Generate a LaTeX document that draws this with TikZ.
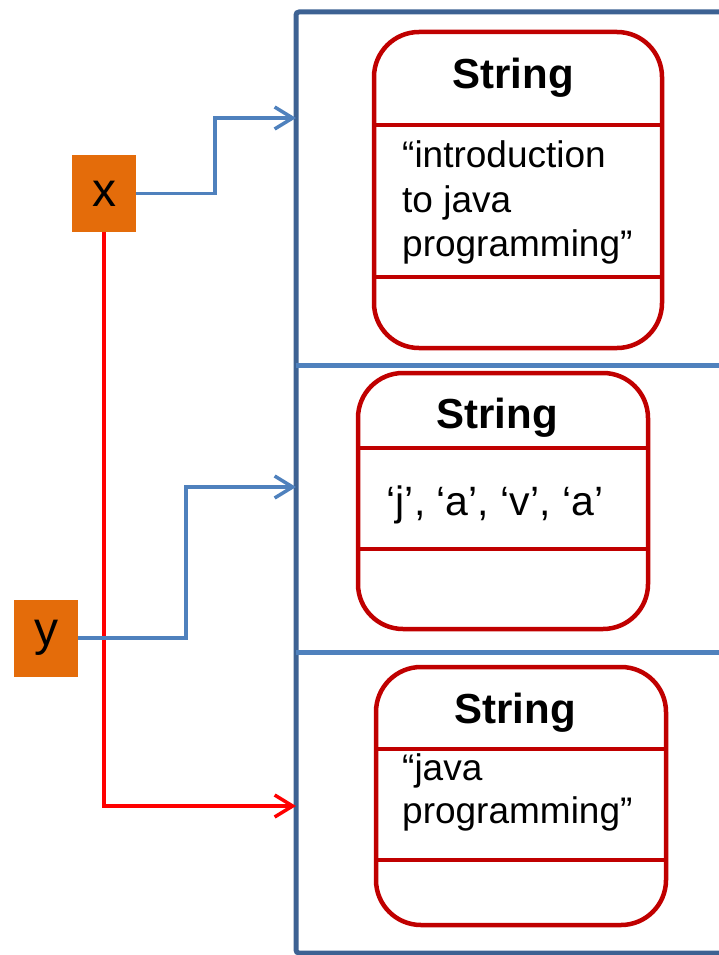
\documentclass[tikz,border=0pt]{standalone}
\usepackage{fontspec}
\setmainfont{Liberation Sans}
\usetikzlibrary{arrows.meta}
\definecolor{varorange}{HTML}{E46C0A}
\definecolor{objred}{HTML}{C00000}
\definecolor{refblue}{HTML}{4F81BD}
\definecolor{heapblue}{HTML}{3D6293}
\tikzset{
  var/.style = {fill=varorange, minimum width=64pt, minimum height=77pt, inner sep=0pt, font=\fontsize{48}{52}\selectfont},
  obj/.style = {draw=objred, line width=4.5pt, rounded corners=45pt},
  sep/.style = {draw=objred, line width=4.5pt},
  title/.style = {anchor=base, font=\fontsize{42}{48}\selectfont\bfseries},
  field/.style = {anchor=base west, inner sep=0pt, font=\fontsize{37}{44}\selectfont},
  ref/.style = {refblue, line width=3.5pt, -{Straight Barb[length=18pt,width=22pt]}},
  newref/.style = {red, line width=3.5pt, -{Straight Barb[length=18pt,width=22pt]}}
}
\begin{document}
\begin{tikzpicture}[x=1pt, y=-1pt]
    \useasboundingbox (0,0) rectangle (718,955);
    % heap
    \draw[heapblue, line width=5pt, rounded corners=3pt] (720,12) -- (296,12) -- (296,953) -- (720,953);
    \draw[refblue, line width=5pt] (296,365) -- (720,365);
    \draw[refblue, line width=5pt] (296,652) -- (720,652);
    \coordinate (top) at (296,118);
    \coordinate (mid) at (296,487);
    \coordinate (bot) at (296,806);
    % first string object
    \draw[obj] (374,32) rectangle (662,348);
    \draw[sep] (374,125) -- (662,125);
    \draw[sep] (374,277) -- (662,277);
    \node[title] (s1) at (513,89) {String};
    \node[field] (s1a) at (402,167) {“introduction};
    \node[field] (s1b) at (402,212) {to java};
    \node[field] (s1c) at (402,256) {programming”};
    % second string object
    \draw[obj] (358,373) rectangle (648,629);
    \draw[sep] (358,448) -- (648,448);
    \draw[sep] (358,549) -- (648,549);
    \node[title] (s2) at (497,428) {String};
    \node[field, anchor=base, font=\fontsize{41}{46}\selectfont] (s2a) at (495,515) {‘j’, ‘a’, ‘v’, ‘a’};
    % third string object
    \draw[obj] (376,667) rectangle (666,925);
    \draw[sep] (376,749) -- (666,749);
    \draw[sep] (376,860) -- (666,860);
    \node[title] (s3) at (515,723) {String};
    \node[field] (s3a) at (402,780) {“java};
    \node[field] (s3b) at (402,823) {programming”};
    % variables
    \node[var] (x) at (104,193.5) {x};
    \node[var] (y) at (46,638) {y};
    \draw[newref] (x.south) |- (bot);
    \draw[ref] (x.east) -- (215,193.5) |- (top);
    \draw[ref] (y.east) -- (186,638) |- (mid);
\end{tikzpicture}
\end{document}
